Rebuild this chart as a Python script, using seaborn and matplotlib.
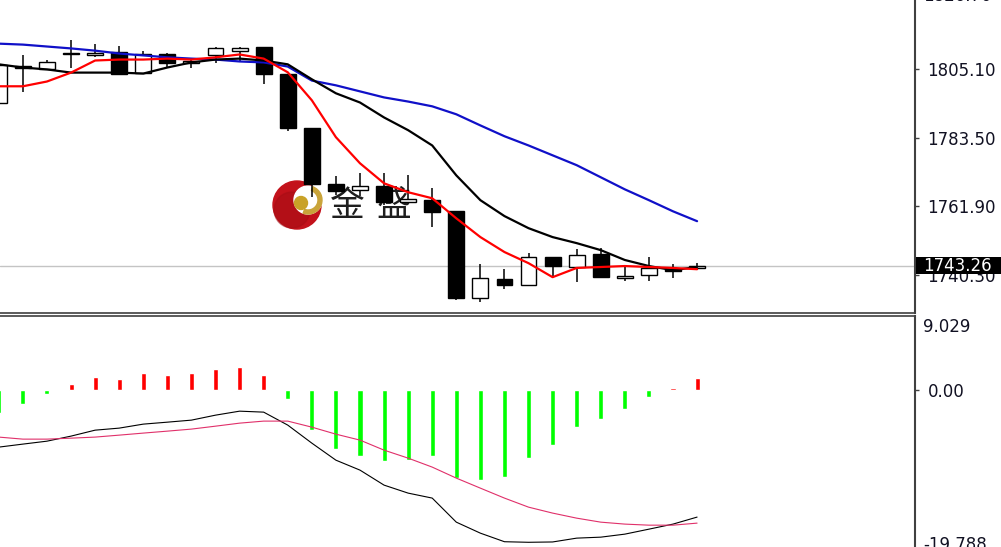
import numpy as np
import pandas as pd
import seaborn as sns
import matplotlib
matplotlib.use("Agg")
import matplotlib.pyplot as plt
import matplotlib.transforms as mtransforms
from matplotlib.patches import Circle, Wedge, Rectangle


# --------------------------------   Data   --------------------------------

opens = [1794.2, 1806.1, 1804.9, 1810.2, 1809.3, 1810.5, 1803.9, 1809.9, 1806.8, 1809.3,
         1810.8, 1811.8, 1803.6, 1786.4, 1768.8, 1766.9, 1768.2, 1763.2, 1763.8, 1760.3,
         1733.1, 1739.0, 1737.1, 1745.9, 1742.8, 1746.9, 1739.3, 1740.3, 1742.1, 1742.5]
highs = [1807.7, 1809.3, 1808.0, 1814.3, 1813.0, 1812.4, 1810.8, 1810.2, 1808.3, 1812.1,
         1812.1, 1812.1, 1803.6, 1786.4, 1771.3, 1772.3, 1772.3, 1771.6, 1767.6, 1760.3,
         1743.7, 1742.1, 1747.2, 1745.9, 1748.4, 1748.7, 1742.8, 1745.9, 1743.7, 1744.0]
lows = [1794.0, 1797.7, 1804.9, 1805.5, 1808.7, 1803.6, 1803.9, 1805.2, 1805.2, 1806.8,
        1807.1, 1800.2, 1785.4, 1764.7, 1765.4, 1765.0, 1762.2, 1763.2, 1755.3, 1732.4,
        1731.8, 1735.9, 1737.1, 1740.0, 1738.1, 1739.3, 1738.4, 1738.4, 1739.3, 1741.8]
closes = [1806.4, 1805.2, 1807.1, 1809.6, 1810.2, 1803.6, 1809.6, 1806.8, 1807.7, 1811.5,
          1811.5, 1803.6, 1786.4, 1768.8, 1766.6, 1768.2, 1763.2, 1764.1, 1760.0, 1733.1,
          1739.3, 1737.1, 1745.9, 1743.1, 1746.5, 1739.6, 1740.0, 1742.5, 1741.5, 1743.26]

# moving averages: red (fast), black (mid), blue (slow)
ma_fast = [1799.6, 1799.6, 1801.1, 1803.9, 1807.7, 1808.0, 1808.0, 1808.3, 1808.0, 1808.7,
           1809.6, 1808.3, 1804.0, 1795.2, 1783.6, 1775.4, 1769.1, 1766.3, 1764.4, 1758.1,
           1752.2, 1747.5, 1744.0, 1739.6, 1742.5, 1742.8, 1743.1, 1742.8, 1742.5, 1742.1]
ma_mid = [1806.5, 1805.5, 1804.9, 1803.9, 1803.9, 1803.9, 1803.6, 1805.5, 1807.1, 1808.0,
          1808.3, 1807.7, 1806.5, 1801.8, 1797.4, 1794.5, 1789.8, 1785.8, 1781.0, 1771.6,
          1763.8, 1758.8, 1755.0, 1752.2, 1750.3, 1748.1, 1745.0, 1743.1, 1741.8, 1742.8]
ma_slow = [1813.0, 1812.7, 1812.1, 1811.5, 1810.8, 1809.9, 1809.3, 1808.7, 1808.3, 1808.0,
           1807.4, 1807.1, 1805.8, 1801.4, 1799.9, 1798.0, 1796.1, 1794.8, 1793.3, 1790.8,
           1787.3, 1783.9, 1781.0, 1777.9, 1774.8, 1771.0, 1767.2, 1763.8, 1760.3, 1757.2]

# MACD window
macd_hist = [-2.82, -1.72, -0.49, 0.74, 1.59, 1.35, 2.08, 1.84, 2.08, 2.58,
             2.82, 1.84, -1.10, -4.90, -7.23, -8.09, -8.71, -8.58, -8.09, -10.79,
             -11.04, -10.67, -8.34, -6.74, -4.54, -3.56, -2.33, -0.86, 0.25, 1.47]
macd_main = [-7.05, -6.68, -6.32, -5.70, -4.97, -4.72, -4.23, -3.99, -3.74, -3.13,
             -2.64, -2.76, -4.35, -6.56, -8.65, -9.87, -11.71, -12.69, -13.30, -16.25,
             -17.60, -18.65, -18.72, -18.68, -18.21, -18.09, -17.72, -17.11, -16.49, -15.63]
macd_signal = [-5.82, -6.07, -6.07, -5.95, -5.82, -5.58, -5.33, -5.09, -4.84, -4.48,
               -4.11, -3.86, -3.86, -4.60, -5.46, -6.19, -7.42, -8.40, -9.50, -10.85,
               -12.08, -13.30, -14.41, -15.14, -15.76, -16.25, -16.49, -16.62, -16.62, -16.37]

price_ticks = [1805.10, 1783.50, 1761.90, 1740.30]
price_top_label = "1826.70"
last_price = 1743.26
macd_top_label = "9.029"
macd_bottom_label = "-19.788"


# --------------------------------   Figure / layout   --------------------------------

sns.set_style("white")
plt.rcParams['font.family'] = ['DejaVu Sans', 'Noto Sans CJK SC']

W, H = 1001, 547
fig = plt.figure(figsize=(W / 100, H / 100), dpi=100)
fig.patch.set_facecolor('white')

# watermark layer (pixel coords, behind everything)
ax_wm = fig.add_axes([0, 0, 1, 1])
ax_wm.set_xlim(0, W)
ax_wm.set_ylim(H, 0)
ax_wm.axis('off')
ax_wm.set_zorder(-1)

ax_p = fig.add_axes([0, (H - 313) / H, 915 / W, 313 / H])
ax_m = fig.add_axes([0, (H - 551) / H, 915 / W, 235 / H])
for ax in (ax_p, ax_m):
    ax.patch.set_alpha(0)

idx = np.arange(len(opens))
df = pd.DataFrame({'i': idx, 'open': opens, 'high': highs, 'low': lows, 'close': closes,
                   'ma_fast': ma_fast, 'ma_mid': ma_mid, 'ma_slow': ma_slow,
                   'hist': macd_hist, 'macd': macd_main, 'signal': macd_signal})


# ===================== price panel =====================
ax_p.axhline(last_price, color='#c4c4c4', lw=1, zorder=1)

body_bottom = np.minimum(df['open'], df['close'])
body_h = np.maximum((df['close'] - df['open']).abs(), 0.35)
body_col = np.where(df['close'] >= df['open'], 'white', 'black')
ax_p.vlines(df['i'], df['low'], df['high'], color='black', lw=1.1, zorder=2)
ax_p.bar(df['i'], body_h, bottom=body_bottom, width=0.66, color=body_col,
         edgecolor='black', linewidth=1, zorder=3)

sns.lineplot(data=df, x='i', y='ma_slow', ax=ax_p, color='#1010c8', lw=1.6, zorder=4)
sns.lineplot(data=df, x='i', y='ma_mid', ax=ax_p, color='black', lw=1.6, zorder=4)
sns.lineplot(data=df, x='i', y='ma_fast', ax=ax_p, color='#ff0000', lw=1.6, zorder=5)

ax_p.set_xlim(0.05, 38.05)
ax_p.set_ylim(1728.34, 1826.72)
ax_p.set_xticks([])
ax_p.yaxis.tick_right()
ax_p.set_yticks(price_ticks)
ax_p.set_yticklabels([f"{v:.2f}" for v in price_ticks])
ax_p.tick_params(axis='y', direction='out', length=3, width=1, color='#404040',
                 pad=6, labelsize=12, labelcolor='#111122')
ax_p.set_xlabel('')
ax_p.set_ylabel('')
for s in ('left', 'top'):
    ax_p.spines[s].set_visible(False)
ax_p.spines['right'].set_color('#404040')
ax_p.spines['right'].set_linewidth(1.5)
ax_p.spines['bottom'].set_color('#404040')
ax_p.spines['bottom'].set_linewidth(1.2)

trans = mtransforms.blended_transform_factory(ax_p.transAxes, ax_p.transData)
# top scale label, mostly cut off by the window edge as in the terminal
ax_p.text(1.0085, 1827.9, price_top_label, transform=trans, ha='left', va='center',
          fontsize=12, color='#111122', clip_on=False)

# last price tag on the right scale
ax_p.add_patch(Rectangle((1.001, last_price - 2.8), 0.12, 5.6, transform=trans,
                         facecolor='black', edgecolor='none', clip_on=False, zorder=10))
ax_p.text(1.0085, last_price, f"{last_price:.2f}", transform=trans, ha='left', va='center',
          color='white', fontsize=12, clip_on=False, zorder=11)


# ===================== MACD panel =====================
hist_col = np.where(df['hist'] >= 0, '#ff0000', '#00ff00')
ax_m.bar(df['i'], df['hist'], width=0.21, color=hist_col, zorder=2)
sns.lineplot(data=df, x='i', y='macd', ax=ax_m, color='black', lw=0.8, zorder=3)
sns.lineplot(data=df, x='i', y='signal', ax=ax_m, color='#e0306a', lw=0.8, zorder=3)

ax_m.set_xlim(0.05, 38.05)
ax_m.set_ylim(-19.788, 9.029)
ax_m.set_xticks([])
ax_m.yaxis.tick_right()
ax_m.set_yticks([0])
ax_m.set_yticklabels(['0.00'])
ax_m.tick_params(axis='y', direction='out', length=3, width=1, color='#404040',
                 pad=6, labelsize=12, labelcolor='#111122')
ax_m.set_xlabel('')
ax_m.set_ylabel('')
for s in ('left', 'bottom'):
    ax_m.spines[s].set_visible(False)
ax_m.spines['right'].set_color('#404040')
ax_m.spines['right'].set_linewidth(1.5)
ax_m.spines['top'].set_color('#404040')
ax_m.spines['top'].set_linewidth(1.2)

trans_m = mtransforms.blended_transform_factory(ax_m.transAxes, ax_m.transData)
ax_m.text(1.0085, 7.68, macd_top_label, transform=trans_m, ha='left', va='center',
          fontsize=12, color='#111122', clip_on=False)
ax_m.text(1.0085, -19.06, macd_bottom_label, transform=trans_m, ha='left', va='center',
          fontsize=12, color='#111122', clip_on=False)


# ===================== watermark logo =====================
ax_wm.add_patch(Circle((297, 205), 24, color='#c3121b'))
ax_wm.add_patch(Circle((292, 210), 18, color='#a50d14', alpha=0.5))
ax_wm.add_patch(Circle((308, 200), 14, color='white'))
ax_wm.add_patch(Wedge((308, 200), 14, -70, 110, width=4, color='#c9a43a'))
ax_wm.add_patch(Circle((301, 203), 6.5, color='#c9a227'))
ax_wm.text(347, 206, '金', fontsize=25, family=['Noto Sans CJK SC'], fontweight='light',
           color='#1e1e1e', ha='center', va='center')
ax_wm.text(394, 206, '盛', fontsize=25, family=['Noto Sans CJK SC'], fontweight='light',
           color='#1e1e1e', ha='center', va='center')

plt.savefig("out.png", dpi=100, facecolor='white')
plt.close()
